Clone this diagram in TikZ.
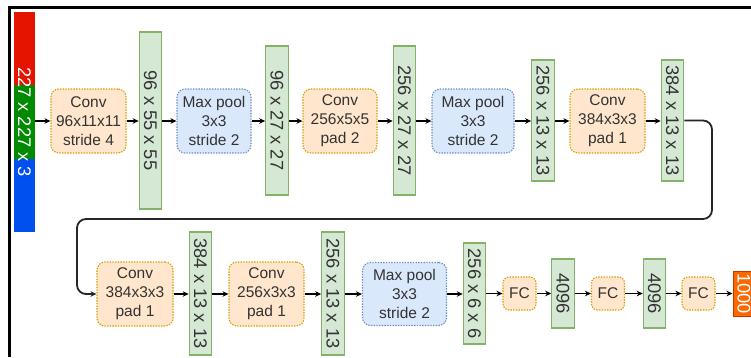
\documentclass[tikz,border=0pt]{standalone}
\usepackage{fontspec}
\usepackage{graphicx}
\setmainfont{Liberation Sans}
\usetikzlibrary{arrows.meta}
\definecolor{convF}{HTML}{FFE6CC}
\definecolor{convB}{HTML}{D79B00}
\definecolor{poolF}{HTML}{DAE8FC}
\definecolor{poolB}{HTML}{6C8EBF}
\definecolor{barF}{HTML}{D5E8D4}
\definecolor{barB}{HTML}{82B366}
\definecolor{inRed}{HTML}{E51400}
\definecolor{inGreen}{HTML}{008A00}
\definecolor{inBlue}{HTML}{0050EF}
\definecolor{outF}{HTML}{FA6800}
\definecolor{outB}{HTML}{C73500}
\definecolor{txt}{HTML}{333333}
\newcommand\boxfont{\fontsize{15.5}{19}\selectfont}
\newcommand\barfont{\fontsize{18.3}{20}\selectfont}
\newcommand\vt[1]{\rotatebox{-90}{#1}}
\tikzset{
  layer/.style={rounded corners=8pt, line width=1.1pt, dash pattern=on 1.4pt off 1.3pt,
    inner sep=0pt, align=center, text=txt, font=\boxfont, minimum height=64pt},
  convbox/.style={layer, draw=convB, fill=convF},
  poolbox/.style={layer, draw=poolB, fill=poolF},
  fcbox/.style={layer, draw=convB, fill=convF, rounded corners=6pt, minimum width=33pt, minimum height=33pt},
  gbar/.style={draw=barB, fill=barF, line width=1.1pt, inner sep=0pt, text=txt, font=\barfont, minimum width=22.5pt},
  inpart/.style={inner sep=0pt, minimum width=21pt, minimum height=73.5pt},
  arr/.style={line width=1.2pt, -{Stealth[length=6pt,width=5.5pt]}},
  conn/.style={line width=1.8pt, draw=black!85, rounded corners=9pt, -{Stealth[length=6pt,width=5.5pt]}},
}
\begin{document}
\begin{tikzpicture}[x=1pt,y=-1pt]
\useasboundingbox (0,0) rectangle (751,357);
% frame
\coordinate (f0) at (9.5,7.5);
\coordinate (f1) at (751,7.5);
\coordinate (f2) at (9.5,357);
\draw[line width=2.6pt] (f1) -- (f0) -- (f2);
% input
\node[inpart, fill=inRed] (inR) at (24.5,48.5) {};
\node[inpart, fill=inGreen] (inG) at (24.5,122) {};
\node[inpart, fill=inBlue] (inB) at (24.5,195.5) {};
\node[text=white, font=\barfont, inner sep=0pt] (inT) at (24.5,122) {\vt{227 x 227 x 3}};
% row 1
\node[convbox, minimum width=75pt] (c1) at (88.5,121) {Conv\\96x11x11\\stride 4};
\node[gbar, minimum height=177pt] (g1) at (150.5,120.5) {\vt{96 x 55 x 55}};
\node[poolbox, minimum width=74pt] (p1) at (214,121) {Max pool\\3x3\\stride 2};
\node[gbar, minimum height=149pt] (g2) at (277,120.5) {\vt{96 x 27 x 27}};
\node[convbox, minimum width=74pt] (c2) at (340,121) {Conv\\256x5x5\\pad 2};
\node[gbar, minimum height=149pt] (g3) at (404.5,120.5) {\vt{256 x 27 x 27}};
\node[poolbox, minimum width=82pt] (p2) at (473,121) {Max pool\\3x3\\stride 2};
\node[gbar, minimum height=121pt] (g4) at (543,120.5) {\vt{256 x 13 x 13}};
\node[convbox, minimum width=75pt] (c3) at (607.5,121) {Conv\\384x3x3\\pad 1};
\node[gbar, minimum height=121pt] (g5) at (672.5,120.5) {\vt{384 x 13 x 13}};
% row 2
\node[convbox, minimum width=76pt] (c4) at (135,294) {Conv\\384x3x3\\pad 1};
\node[gbar, minimum height=123pt] (g6) at (200.5,293.5) {\vt{384 x 13 x 13}};
\node[convbox, minimum width=75pt] (c5) at (266.5,294) {Conv\\256x3x3\\pad 1};
\node[gbar, minimum height=123pt] (g7) at (333,293.5) {\vt{256 x 13 x 13}};
\node[poolbox, minimum width=84pt, minimum height=63pt] (p3) at (404.5,294) {Max pool\\3x3\\stride 2};
\node[gbar, minimum height=101pt] (g8) at (474.5,293.5) {\vt{256 x 6 x 6}};
\node[fcbox] (f1n) at (519.5,293.5) {FC};
\node[gbar, minimum height=69pt] (g9) at (563,293.5) {\vt{4096}};
\node[fcbox] (f2n) at (608,293.5) {FC};
\node[gbar, minimum height=69pt] (g10) at (654.5,293.5) {\vt{4096}};
\node[fcbox] (f3n) at (698.5,293.5) {FC};
\node[draw=outB, fill=outF, line width=1pt, inner sep=0pt, minimum width=22pt, minimum height=45pt, text=white, font=\barfont] (out) at (744,293.5) {\vt{1000}};
% arrows row 1
\draw[arr] (inG.east |- c1.west) -- (c1.west);
\draw[arr] (c1.east) -- (c1.east -| g1.west);
\draw[arr] (c1.east -| g1.east) -- (p1.west);
\draw[arr] (p1.east) -- (p1.east -| g2.west);
\draw[arr] (p1.east -| g2.east) -- (c2.west);
\draw[arr] (c2.east) -- (c2.east -| g3.west);
\draw[arr] (c2.east -| g3.east) -- (p2.west);
\draw[arr] (p2.east) -- (p2.east -| g4.west);
\draw[arr] (p2.east -| g4.east) -- (c3.west);
\draw[arr] (c3.east) -- (c3.east -| g5.west);
% wrap connector
\coordinate (t1) at (712,219);
\coordinate (t2) at (77,219);
\draw[conn] (g5.east) -| (t1) -- (t2) |- (c4.west);
% arrows row 2
\draw[arr] (c4.east) -- (c4.east -| g6.west);
\draw[arr] (c4.east -| g6.east) -- (c5.west);
\draw[arr] (c5.east) -- (c5.east -| g7.west);
\draw[arr] (c5.east -| g7.east) -- (p3.west);
\draw[arr] (p3.east) -- (p3.east -| g8.west);
\draw[arr] (g8.east) -- (f1n.west);
\draw[arr] (f1n.east) -- (g9.west);
\draw[arr] (g9.east) -- (f2n.west);
\draw[arr] (f2n.east) -- (g10.west);
\draw[arr] (g10.east) -- (f3n.west);
\draw[arr] (f3n.east) -- (out.west);
\end{tikzpicture}
\end{document}
